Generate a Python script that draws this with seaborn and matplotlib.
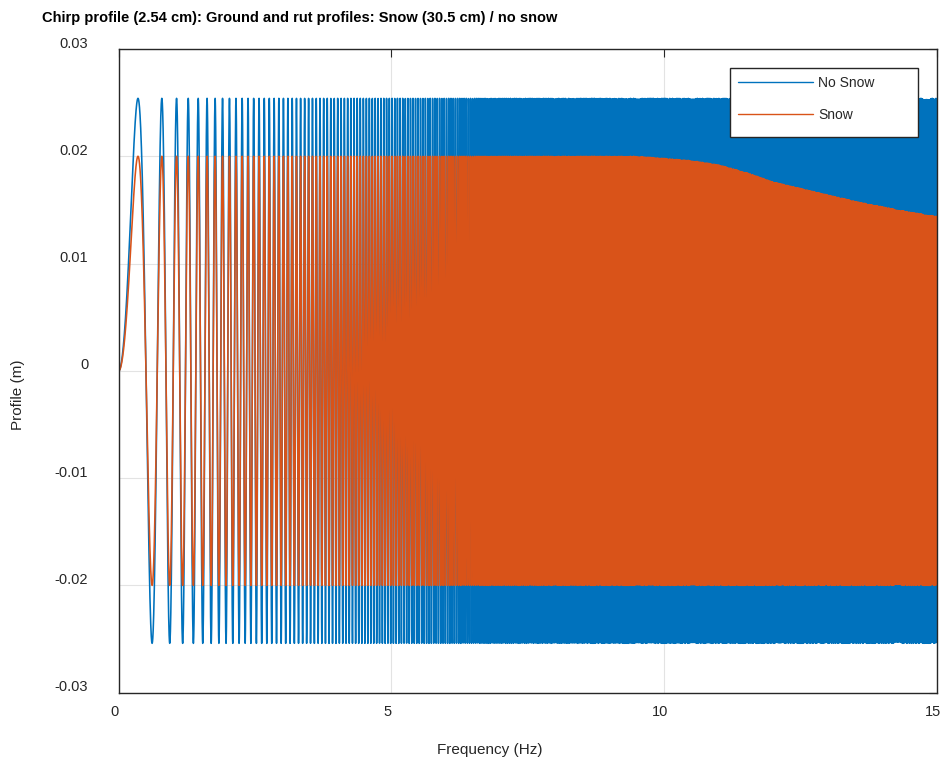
import numpy as np
import pandas as pd
import matplotlib
matplotlib.use("Agg")
import matplotlib.pyplot as plt
import matplotlib.transforms as mtransforms
from matplotlib.patches import Rectangle
import seaborn as sns

# ---------------- data ----------------
TITLE = "Chirp profile (2.54 cm): Ground and rut profiles: Snow (30.5 cm) / no snow"
X_LABEL = "Frequency (Hz)"
Y_LABEL = "Profile (m)"
SERIES = ["No Snow", "Snow"]
COLORS = ["#0072BD", "#D95319"]

F_MAX = 15.0                 # sweep end (Hz)
CYCLES_PER_HZ2 = 2.0         # read from peak positions: peaks at 2 f^2 = n + 1/4
SAMPLES_PER_HZ = 1600        # sampling density of the profile
NO_SNOW_AMP = 0.0254         # 2.54 cm chirp amplitude

# snow profile envelope (upper side decays, lower side stays at -0.02)
ENV_FREQ = [0.0, 9.5, 10.0, 10.5, 11.0, 11.5, 12.0, 12.5, 13.0, 13.5, 14.0, 14.5, 15.0]
SNOW_UPPER = [0.0200, 0.0200, 0.0198, 0.0196, 0.0192, 0.0185, 0.0176, 0.0170,
              0.0164, 0.0158, 0.0153, 0.0148, 0.0144]
SNOW_LOWER = 0.0200

X_TICKS = [0, 5, 10, 15]
X_TICK_LABELS = ["0", "5", "10", "15"]
Y_TICKS = [-0.03, -0.02, -0.01, 0.0, 0.01, 0.02, 0.03]
Y_TICK_LABELS = ["-0.03", "-0.02", "-0.01", "0", "0.01", "0.02", "0.03"]

# ---------------- build the profiles ----------------
freq = np.linspace(0.0, F_MAX, int(F_MAX * SAMPLES_PER_HZ) + 1)
carrier = np.sin(2 * np.pi * CYCLES_PER_HZ2 * freq ** 2)
no_snow = NO_SNOW_AMP * carrier
upper = np.interp(freq, ENV_FREQ, SNOW_UPPER)
snow = np.where(carrier > 0, upper, SNOW_LOWER) * carrier

df = pd.concat([
    pd.DataFrame({"Frequency": freq, "Profile": no_snow, "Series": SERIES[0]}),
    pd.DataFrame({"Frequency": freq, "Profile": snow, "Series": SERIES[1]}),
], ignore_index=True)

# ---------------- figure ----------------
sns.set_theme(style="white")
plt.rcParams["font.family"] = ["Liberation Sans", "DejaVu Sans"]

W, H = 943, 764
fig = plt.figure(figsize=(W / 100, H / 100), dpi=100)
left, right, top, bottom = 118.7, 936.7, 49.0, 692.7
ax = fig.add_axes([left / W, 1 - bottom / H, (right - left) / W, (bottom - top) / H])

sns.lineplot(data=df, x="Frequency", y="Profile", hue="Series", hue_order=SERIES,
             palette=COLORS, estimator=None, errorbar=None, sort=False,
             linewidth=1.15, ax=ax, legend=True)

ax.set_xlim(0, F_MAX)
ax.set_ylim(-0.03, 0.03)
ax.set_xticks(X_TICKS)
ax.set_xticklabels(X_TICK_LABELS)
ax.set_yticks(Y_TICKS)
ax.set_yticklabels(Y_TICK_LABELS)
ax.set_xlabel("")
ax.set_ylabel("")

ax.grid(True, color="#E3E3E3", linewidth=0.8)
ax.set_axisbelow(True)
for s in ax.spines.values():
    s.set_visible(True)
    s.set_color("#262626")
    s.set_linewidth(1.0)

ax.tick_params(axis="both", direction="in", length=6, width=0.8, colors="#262626",
               top=True, right=True, labelsize=10.5, labelcolor="#262626")
ax.tick_params(axis="y", pad=22)
ax.tick_params(axis="x", pad=9)

dy = mtransforms.ScaledTranslation(0, 7 / 100, fig.dpi_scale_trans)
for lab in ax.get_yticklabels():
    lab.set_transform(lab.get_transform() + dy)
dx = mtransforms.ScaledTranslation(-4 / 100, 0, fig.dpi_scale_trans)
for lab in ax.get_xticklabels():
    lab.set_transform(lab.get_transform() + dx)

# legend
handles, labels = ax.get_legend_handles_labels()
for h in handles:
    h.set_linewidth(1.0)
leg = ax.legend(handles, labels, loc="upper left",
                bbox_to_anchor=(738 / W, 1 - 76 / H), bbox_transform=fig.transFigure,
                frameon=False, borderpad=0, borderaxespad=0, handlelength=5.4,
                handletextpad=0.36, labelspacing=1.3, fontsize=10)
leg.set_zorder(6)
box = Rectangle((730 / W, 1 - 137 / H), 188 / W, 69 / H, transform=fig.transFigure,
                facecolor="white", edgecolor="#262626", linewidth=1.0, zorder=5,
                clip_on=False)
ax.add_artist(box)

fig.text(42 / W, 1 - 18 / H, TITLE, ha="left", va="center", fontsize=10.5,
         fontweight="bold", color="black")
fig.text(490 / W, 1 - 750 / H, X_LABEL, ha="center", va="center", fontsize=11,
         color="#262626")
fig.text(18 / W, 1 - 395 / H, Y_LABEL, ha="center", va="center", fontsize=11,
         rotation=90, color="#262626")

fig.savefig("out.png", dpi=100)
